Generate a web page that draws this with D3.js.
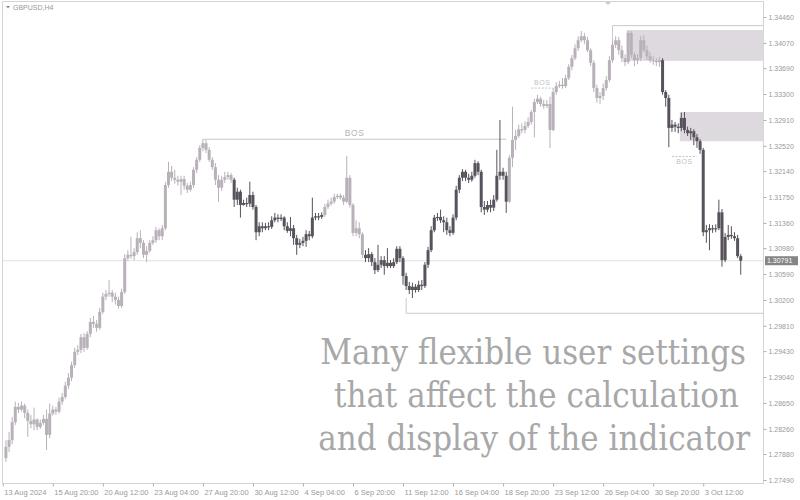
<!DOCTYPE html>
<html>
<head>
<meta charset="utf-8">
<script src="https://cdn.jsdelivr.net/npm/d3@7"></script>
<style>
  body { margin: 0; background: #fff; }
  svg { display: block; }
</style>
</head>
<body>
<svg width="800" height="500"></svg>
<script>
const symbol = 'GBPUSD,H4';
const timeLabels = ['13 Aug 2024', '15 Aug 20:00', '20 Aug 12:00', '23 Aug 04:00', '27 Aug 20:00',
  '30 Aug 12:00', '4 Sep 04:00', '6 Sep 20:00', '11 Sep 12:00', '16 Sep 04:00', '18 Sep 20:00',
  '23 Sep 12:00', '26 Sep 04:00', '30 Sep 20:00', '3 Oct 12:00'];
const priceTicks = [1.34460, 1.34070, 1.33690, 1.33300, 1.32910, 1.32520, 1.32140, 1.31750, 1.31360,
  1.30980, 1.30590, 1.30200, 1.29810, 1.29430, 1.29040, 1.28650, 1.28260, 1.27880, 1.27490];
const lastPrice = 1.30791;

// [open, high, low, close], one per H4 bar
const candles = [
  [1.2782,1.2809,1.2776,1.2799],[1.2799,1.2821,1.2791,1.2809],[1.2809,1.2844,1.2803,1.2836],[1.2836,1.2867,1.2832,1.2859],
  [1.2859,1.2865,1.2850,1.2855],[1.2855,1.2867,1.2852,1.2861],[1.2861,1.2864,1.2842,1.2850],[1.2850,1.2855,1.2814,1.2838],
  [1.2838,1.2847,1.2827,1.2833],[1.2833,1.2858,1.2824,1.2840],[1.2840,1.2842,1.2824,1.2829],[1.2829,1.2840,1.2826,1.2835],
  [1.2835,1.2847,1.2832,1.2841],[1.2841,1.2855,1.2794,1.2817],[1.2817,1.2864,1.2812,1.2849],[1.2849,1.2861,1.2846,1.2855],
  [1.2855,1.2859,1.2847,1.2852],[1.2852,1.2873,1.2849,1.2867],[1.2867,1.2880,1.2862,1.2874],[1.2874,1.2897,1.2871,1.2891],
  [1.2891,1.2910,1.2886,1.2903],[1.2903,1.2927,1.2898,1.2922],[1.2922,1.2948,1.2918,1.2942],[1.2942,1.2952,1.2937,1.2945],
  [1.2945,1.2969,1.2940,1.2964],[1.2964,1.2970,1.2942,1.2948],[1.2948,1.2973,1.2945,1.2969],[1.2969,1.2993,1.2964,1.2987],
  [1.2987,1.2996,1.2978,1.2984],[1.2984,1.2990,1.2972,1.2978],[1.2978,1.3008,1.2975,1.3002],[1.3002,1.3031,1.2999,1.3025],
  [1.3025,1.3035,1.3020,1.3029],[1.3029,1.3050,1.3025,1.3031],[1.3031,1.3035,1.3017,1.3025],[1.3025,1.3031,1.3013,1.3020],
  [1.3020,1.3025,1.3007,1.3011],[1.3011,1.3037,1.3008,1.3032],[1.3032,1.3089,1.3029,1.3083],[1.3083,1.3095,1.3079,1.3088],
  [1.3088,1.3115,1.3082,1.3086],[1.3086,1.3098,1.3080,1.3092],[1.3092,1.3122,1.3088,1.3113],[1.3113,1.3125,1.3098,1.3106],
  [1.3106,1.3110,1.3083,1.3088],[1.3088,1.3101,1.3077,1.3094],[1.3094,1.3110,1.3091,1.3106],[1.3106,1.3116,1.3103,1.3110],
  [1.3110,1.3130,1.3106,1.3125],[1.3125,1.3128,1.3110,1.3116],[1.3116,1.3133,1.3110,1.3128],[1.3128,1.3198,1.3125,1.3193],
  [1.3193,1.3228,1.3189,1.3213],[1.3213,1.3222,1.3199,1.3204],[1.3204,1.3216,1.3195,1.3201],[1.3201,1.3207,1.3192,1.3198],
  [1.3198,1.3207,1.3178,1.3202],[1.3202,1.3207,1.3186,1.3192],[1.3192,1.3196,1.3181,1.3186],[1.3186,1.3198,1.3183,1.3193],
  [1.3193,1.3220,1.3189,1.3216],[1.3216,1.3235,1.3211,1.3231],[1.3231,1.3253,1.3228,1.3249],[1.3249,1.3262,1.3244,1.3256],
  [1.3256,1.3261,1.3241,1.3246],[1.3246,1.3250,1.3228,1.3231],[1.3231,1.3235,1.3216,1.3220],[1.3220,1.3226,1.3193,1.3201],
  [1.3201,1.3208,1.3168,1.3189],[1.3189,1.3207,1.3184,1.3201],[1.3201,1.3213,1.3196,1.3205],[1.3205,1.3213,1.3201,1.3208],
  [1.3208,1.3211,1.3196,1.3201],[1.3201,1.3204,1.3160,1.3171],[1.3171,1.3189,1.3163,1.3183],[1.3183,1.3186,1.3144,1.3163],
  [1.3163,1.3171,1.3162,1.3166],[1.3166,1.3174,1.3160,1.3165],[1.3165,1.3198,1.3160,1.3178],[1.3178,1.3183,1.3156,1.3160],
  [1.3160,1.3163,1.3110,1.3122],[1.3122,1.3137,1.3116,1.3131],[1.3131,1.3137,1.3122,1.3128],[1.3128,1.3136,1.3125,1.3131],
  [1.3131,1.3137,1.3125,1.3130],[1.3130,1.3146,1.3127,1.3140],[1.3140,1.3151,1.3137,1.3144],[1.3144,1.3149,1.3137,1.3142],
  [1.3142,1.3149,1.3139,1.3144],[1.3144,1.3146,1.3125,1.3131],[1.3131,1.3137,1.3121,1.3124],[1.3124,1.3145,1.3116,1.3128],
  [1.3128,1.3133,1.3103,1.3113],[1.3113,1.3118,1.3088,1.3103],[1.3103,1.3112,1.3098,1.3106],[1.3106,1.3115,1.3101,1.3109],
  [1.3109,1.3125,1.3100,1.3119],[1.3119,1.3124,1.3110,1.3116],[1.3116,1.3174,1.3113,1.3144],[1.3144,1.3151,1.3140,1.3146],
  [1.3146,1.3151,1.3140,1.3145],[1.3145,1.3152,1.3142,1.3148],[1.3148,1.3165,1.3145,1.3160],[1.3160,1.3171,1.3157,1.3165],
  [1.3165,1.3174,1.3162,1.3168],[1.3168,1.3180,1.3165,1.3175],[1.3175,1.3180,1.3172,1.3177],[1.3177,1.3180,1.3171,1.3174],
  [1.3174,1.3178,1.3163,1.3168],[1.3168,1.3237,1.3166,1.3204],[1.3204,1.3208,1.3159,1.3163],[1.3163,1.3166,1.3116,1.3121],
  [1.3121,1.3140,1.3116,1.3128],[1.3128,1.3137,1.3113,1.3119],[1.3119,1.3122,1.3083,1.3088],[1.3088,1.3095,1.3077,1.3083],
  [1.3083,1.3098,1.3077,1.3089],[1.3089,1.3092,1.3071,1.3077],[1.3077,1.3083,1.3059,1.3065],[1.3065,1.3103,1.3062,1.3073],
  [1.3073,1.3086,1.3068,1.3080],[1.3080,1.3086,1.3058,1.3071],[1.3071,1.3098,1.3068,1.3076],[1.3076,1.3080,1.3068,1.3071],
  [1.3071,1.3083,1.3068,1.3077],[1.3077,1.3101,1.3074,1.3097],[1.3097,1.3101,1.3077,1.3083],[1.3083,1.3086,1.3043,1.3056],
  [1.3056,1.3061,1.3035,1.3041],[1.3041,1.3047,1.3029,1.3035],[1.3035,1.3046,1.3023,1.3040],[1.3040,1.3044,1.3031,1.3035],
  [1.3035,1.3049,1.3032,1.3043],[1.3043,1.3050,1.3035,1.3041],[1.3041,1.3077,1.3038,1.3073],[1.3073,1.3100,1.3068,1.3095],
  [1.3095,1.3131,1.3092,1.3125],[1.3125,1.3148,1.3122,1.3144],[1.3144,1.3151,1.3139,1.3145],[1.3145,1.3156,1.3136,1.3140],
  [1.3140,1.3146,1.3122,1.3137],[1.3137,1.3144,1.3118,1.3125],[1.3125,1.3131,1.3116,1.3121],[1.3121,1.3149,1.3118,1.3144],
  [1.3144,1.3192,1.3140,1.3186],[1.3186,1.3208,1.3181,1.3204],[1.3204,1.3217,1.3199,1.3213],[1.3213,1.3216,1.3199,1.3204],
  [1.3204,1.3210,1.3196,1.3201],[1.3201,1.3213,1.3198,1.3207],[1.3207,1.3231,1.3204,1.3226],[1.3226,1.3229,1.3208,1.3213],
  [1.3213,1.3216,1.3152,1.3160],[1.3160,1.3169,1.3148,1.3156],[1.3156,1.3169,1.3152,1.3163],[1.3163,1.3171,1.3152,1.3159],
  [1.3159,1.3178,1.3154,1.3171],[1.3171,1.3246,1.3168,1.3207],[1.3207,1.3291,1.3201,1.3213],[1.3213,1.3219,1.3201,1.3207],
  [1.3207,1.3213,1.3151,1.3168],[1.3168,1.3238,1.3166,1.3234],[1.3234,1.3311,1.3220,1.3261],[1.3261,1.3276,1.3246,1.3267],
  [1.3267,1.3284,1.3264,1.3277],[1.3277,1.3286,1.3271,1.3276],[1.3276,1.3289,1.3271,1.3282],[1.3282,1.3295,1.3279,1.3288],
  [1.3288,1.3306,1.3284,1.3303],[1.3303,1.3323,1.3265,1.3318],[1.3318,1.3329,1.3315,1.3323],[1.3323,1.3326,1.3311,1.3315],
  [1.3315,1.3321,1.3308,1.3312],[1.3312,1.3321,1.3309,1.3315],[1.3315,1.3326,1.3249,1.3276],[1.3276,1.3339,1.3274,1.3333],
  [1.3333,1.3348,1.3329,1.3342],[1.3342,1.3350,1.3339,1.3344],[1.3344,1.3354,1.3338,1.3342],[1.3342,1.3359,1.3339,1.3354],
  [1.3354,1.3375,1.3351,1.3371],[1.3371,1.3389,1.3366,1.3384],[1.3384,1.3405,1.3381,1.3399],[1.3399,1.3417,1.3395,1.3411],
  [1.3411,1.3425,1.3408,1.3417],[1.3417,1.3422,1.3405,1.3411],[1.3411,1.3416,1.3393,1.3396],[1.3396,1.3399,1.3372,1.3377],
  [1.3377,1.3381,1.3333,1.3339],[1.3339,1.3344,1.3317,1.3324],[1.3324,1.3333,1.3315,1.3327],[1.3327,1.3346,1.3321,1.3339],
  [1.3339,1.3357,1.3335,1.3351],[1.3351,1.3387,1.3348,1.3381],[1.3381,1.3411,1.3377,1.3404],[1.3404,1.3417,1.3399,1.3411],
  [1.3411,1.3416,1.3389,1.3396],[1.3396,1.3403,1.3378,1.3384],[1.3384,1.3390,1.3372,1.3378],[1.3378,1.3425,1.3375,1.3422],
  [1.3422,1.3425,1.3384,1.3389],[1.3389,1.3393,1.3372,1.3381],[1.3381,1.3390,1.3375,1.3384],[1.3384,1.3417,1.3380,1.3411],
  [1.3411,1.3419,1.3393,1.3396],[1.3396,1.3403,1.3381,1.3387],[1.3387,1.3393,1.3377,1.3381],[1.3381,1.3387,1.3374,1.3380],
  [1.3380,1.3384,1.3372,1.3378],[1.3378,1.3386,1.3371,1.3381],[1.3381,1.3384,1.3329,1.3333],[1.3333,1.3336,1.3311,1.3324],
  [1.3324,1.3329,1.3250,1.3279],[1.3279,1.3291,1.3273,1.3284],[1.3284,1.3288,1.3273,1.3281],[1.3281,1.3286,1.3271,1.3279],
  [1.3279,1.3302,1.3274,1.3294],[1.3294,1.3303,1.3271,1.3276],[1.3276,1.3281,1.3267,1.3271],[1.3271,1.3279,1.3261,1.3274],
  [1.3274,1.3277,1.3253,1.3265],[1.3265,1.3270,1.3249,1.3259],[1.3259,1.3262,1.3240,1.3246],[1.3246,1.3249,1.3116,1.3122],
  [1.3122,1.3133,1.3106,1.3125],[1.3125,1.3134,1.3095,1.3128],[1.3128,1.3133,1.3121,1.3127],[1.3127,1.3134,1.3122,1.3128],
  [1.3128,1.3171,1.3125,1.3152],[1.3152,1.3157,1.3070,1.3080],[1.3080,1.3121,1.3077,1.3115],[1.3115,1.3133,1.3110,1.3118],
  [1.3118,1.3131,1.3112,1.3116],[1.3116,1.3122,1.3109,1.3113],[1.3113,1.3118,1.3083,1.3086],[1.3086,1.3089,1.3058,1.30791]
];

// bar ranges painted in the bearish colour
const bearRanges = [[73, 101], [115, 160], [210, 235]];
// break of structure lines: bar from, bar to, price
const bosLines = [
  { from: 63, to: 160, price: 1.3262, dashed: false, below: false },
  { from: 168, to: 175, price: 1.3339, dashed: true, below: false },
  { from: 213, to: 221, price: 1.3236, dashed: true, below: true }
];
// open levels running to the right edge: start bar, anchor price, level price
const levels = [
  { from: 194, anchor: 1.3411, price: 1.3433 },
  { from: 128, anchor: 1.3023, price: 1.3000 }
];
// supply zones: start bar, top, bottom
const zones = [
  { from: 199, top: 1.34265, bottom: 1.3380 },
  { from: 216, top: 1.3303, bottom: 1.3259 }
];
const caption = ['Many flexible user settings', 'that affect the calculation', 'and display of the indicator'];

const W = 800, H = 500;
const plotRight = 763.5, plotBottom = 483.5;
const svg = d3.select('svg');

const x = d3.scaleLinear().domain([0, candles.length - 1]).range([5.9, 5.9 + (candles.length - 1) * 3.127]);
const y = d3.scaleLinear().domain([1.27490, 1.34460]).range([480, 17]);

const isBear = i => bearRanges.some(r => i >= r[0] && i <= r[1]);
const LIGHT = '#b8b1b9', DARK = '#57525b';

svg.append('rect').attr('width', W).attr('height', H).attr('fill', '#fff');

// frame
svg.append('path')
  .attr('d', `M2.5,${plotBottom} V1.5 H${plotRight} V${plotBottom} H2.5`)
  .attr('fill', 'none').attr('stroke', '#d4d4d4').attr('stroke-width', 1);

// zones
svg.append('g').selectAll('rect').data(zones).enter().append('rect')
  .attr('x', d => x(d.from) - 1.5)
  .attr('y', d => y(d.top))
  .attr('width', d => plotRight - x(d.from) + 1.5)
  .attr('height', d => y(d.bottom) - y(d.top))
  .attr('fill', '#ddd9de');

// current price line
svg.append('line')
  .attr('x1', 3).attr('x2', plotRight)
  .attr('y1', y(lastPrice)).attr('y2', y(lastPrice))
  .attr('stroke', '#e2e2e2').attr('stroke-width', 1);

// open levels
const lv = svg.append('g').attr('fill', 'none').attr('stroke', '#c9c9c9').attr('stroke-width', 1);
levels.forEach(d => {
  lv.append('path')
    .attr('d', `M${x(d.from)},${y(d.anchor)} V${y(d.price)} H${plotRight}`);
});

// BOS lines
const bos = svg.append('g');
bosLines.forEach(d => {
  bos.append('line')
    .attr('x1', x(d.from)).attr('x2', x(d.to))
    .attr('y1', y(d.price)).attr('y2', y(d.price))
    .attr('stroke', d.dashed ? '#c4c4c4' : '#c6c6c6')
    .attr('stroke-width', 1)
    .attr('stroke-dasharray', d.dashed ? '2,1.5' : null);
  bos.append('text')
    .attr('x', (x(d.from) + x(d.to)) / 2)
    .attr('y', y(d.price) + (d.below ? 8 : -3))
    .attr('text-anchor', 'middle')
    .attr('font-family', 'Liberation Sans, Arial, sans-serif')
    .attr('font-size', d.dashed ? 7 : 8.5)
    .attr('letter-spacing', 0.6)
    .attr('fill', d.dashed ? '#c2c2c2' : '#b5b5b5')
    .text('BOS');
});

// candles
const cg = svg.append('g').selectAll('g').data(candles).enter().append('g')
  .attr('fill', (d, i) => isBear(i) ? DARK : LIGHT)
  .attr('stroke', (d, i) => isBear(i) ? DARK : LIGHT);

cg.append('line')
  .attr('x1', (d, i) => x(i)).attr('x2', (d, i) => x(i))
  .attr('y1', d => y(d[1])).attr('y2', d => y(d[2]))
  .attr('stroke-width', 1);

cg.append('rect')
  .attr('x', (d, i) => x(i) - 1.5)
  .attr('width', 3)
  .attr('y', d => y(Math.max(d[0], d[3])))
  .attr('height', d => Math.max(1.2, Math.abs(y(d[0]) - y(d[3]))))
  .attr('stroke', 'none');

// chart shift marker
svg.append('path').attr('d', 'M605,2 L611,2 L608,5 Z').attr('fill', '#c8c8c8');

// symbol title
svg.append('path').attr('d', 'M6,6 L10,6 L8,8.5 Z').attr('fill', '#8a8a8a');
svg.append('text')
  .attr('x', 13).attr('y', 10)
  .attr('font-family', 'Liberation Sans, Arial, sans-serif')
  .attr('font-size', 7).attr('fill', '#9a9a9a')
  .text(symbol);

// price axis
const yAxis = svg.append('g')
  .attr('transform', `translate(${plotRight},0)`)
  .call(d3.axisRight(y).tickValues(priceTicks).tickFormat(d3.format('.5f')).tickSize(3).tickPadding(2));
yAxis.select('.domain').remove();
yAxis.selectAll('line').attr('stroke', '#b0b0b0');
yAxis.selectAll('text')
  .attr('font-family', 'Liberation Sans, Arial, sans-serif')
  .attr('font-size', 7).attr('fill', '#9a9a9a');

// last price tag
svg.append('rect')
  .attr('x', 765).attr('y', y(lastPrice) - 4.5)
  .attr('width', 33).attr('height', 9)
  .attr('fill', '#858585');
svg.append('text')
  .attr('x', 767).attr('y', y(lastPrice) + 2.5)
  .attr('font-family', 'Liberation Sans, Arial, sans-serif')
  .attr('font-size', 7).attr('fill', '#fff')
  .text(d3.format('.5f')(lastPrice));

// time axis: a label every 16 bars
const tickBars = timeLabels.map((t, k) => 16 * k - 1);
const xAxis = svg.append('g')
  .attr('transform', `translate(0,${plotBottom})`)
  .call(d3.axisBottom(x).tickValues(tickBars).tickFormat((d, k) => timeLabels[k]).tickSize(3).tickPadding(3));
xAxis.select('.domain').remove();
xAxis.selectAll('line').attr('stroke', '#b0b0b0');
xAxis.selectAll('text')
  .attr('text-anchor', 'start')
  .attr('dx', 1)
  .attr('font-family', 'Liberation Sans, Arial, sans-serif')
  .attr('font-size', 7.5).attr('fill', '#9a9a9a');

// caption overlay, sized so each line fits its span
const capL = [320, 330, 316], capR = [746, 739, 750];
const cap = svg.append('g').selectAll('text').data(caption).enter().append('text')
  .attr('y', (d, i) => 364 + i * 43)
  .attr('font-family', 'DejaVu Serif Condensed, DejaVu Serif, serif')
  .attr('font-size', 36)
  .attr('fill', '#a8a8a8')
  .text(d => d);
let fit = Infinity;
cap.each(function (d, i) {
  fit = Math.min(fit, 36 * (capR[i] - capL[i]) / this.getComputedTextLength());
});
cap.attr('font-size', fit)
  .attr('text-anchor', 'end')
  .attr('x', (d, i) => capR[i]);
</script>
</body>
</html>
